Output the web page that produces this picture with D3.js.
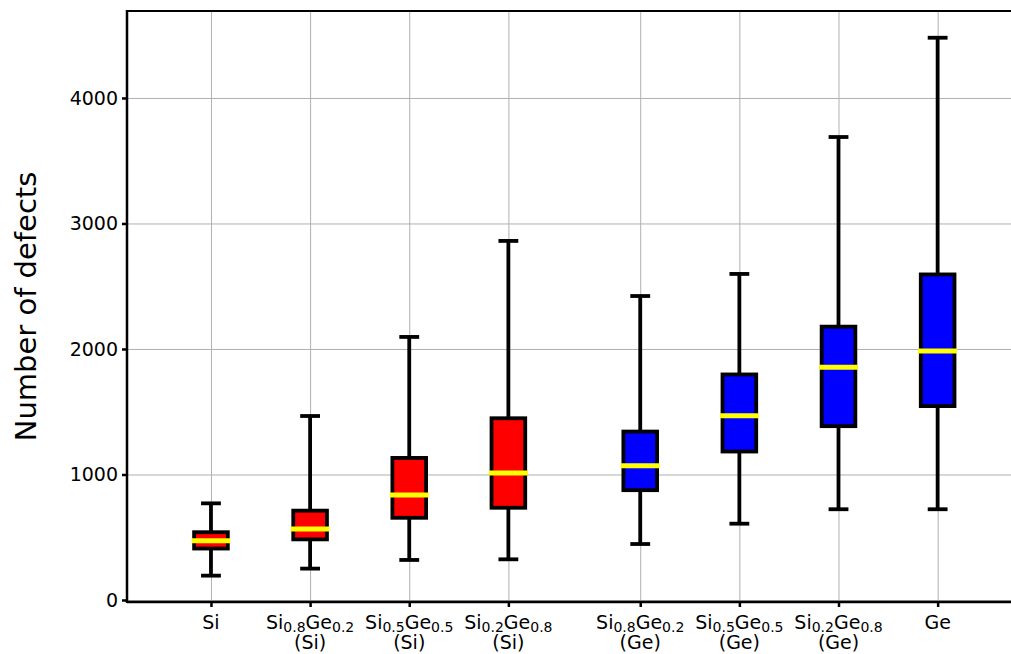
<!DOCTYPE html>
<html>
<head>
<meta charset="utf-8">
<script src="https://cdn.jsdelivr.net/npm/d3@7"></script>
<style>
  html, body { margin: 0; padding: 0; background: #ffffff; }
  svg { display: block; font-family: "DejaVu Sans", sans-serif; }
</style>
</head>
<body>
<svg id="chart" width="1011" height="654"></svg>
<script>
// ---- data ----
const positions = [1, 2, 3, 4, 5.33, 6.33, 7.33, 8.33];
// first label line: segments alternate normal / subscript
const labelLine1 = [
  ["Si"],
  ["Si", "0.8", "Ge", "0.2"],
  ["Si", "0.5", "Ge", "0.5"],
  ["Si", "0.2", "Ge", "0.8"],
  ["Si", "0.8", "Ge", "0.2"],
  ["Si", "0.5", "Ge", "0.5"],
  ["Si", "0.2", "Ge", "0.8"],
  ["Ge"]
];
const labelLine2 = ["", "(Si)", "(Si)", "(Si)", "(Ge)", "(Ge)", "(Ge)", ""];
const whiskerLow  = [194, 250, 319, 324, 446, 608, 723, 723];
const q1          = [410, 483, 655, 735, 875, 1183, 1385, 1545];
const medians     = [473, 566, 837, 1012, 1070, 1469, 1854, 1984];
const q3          = [540, 712, 1132, 1448, 1342, 1797, 2178, 2594];
const whiskerHigh = [770, 1466, 2096, 2861, 2422, 2598, 3689, 4480];
const boxColors   = ["#ff0000", "#ff0000", "#ff0000", "#ff0000", "#0000ff", "#0000ff", "#0000ff", "#0000ff"];
const yTicks = [0, 1000, 2000, 3000, 4000];
const yLabel = "Number of defects";

// ---- layout ----
const plotLeft = 127, plotRight = 1011, plotTop = 11, plotBottom = 602;
const boxWidth = 0.34, capWidth = 0.2;
const lw = 3.8;

const svg = d3.select("#chart");
const x = d3.scaleLinear().domain([0.153, 9.07]).range([plotLeft, plotRight]);
const y = d3.scaleLinear().domain([-16, 4693]).range([plotBottom, plotTop]);

// grid
const gridY = svg.append("g").attr("transform", `translate(${plotLeft},0)`)
  .call(d3.axisLeft(y).tickValues(yTicks).tickSize(-(plotRight - plotLeft)).tickFormat(""));
gridY.select(".domain").remove();
gridY.selectAll("line").attr("stroke", "#b0b0b0").attr("stroke-width", 1);

const gridX = svg.append("g").attr("transform", `translate(0,${plotBottom})`)
  .call(d3.axisBottom(x).tickValues(positions).tickSize(-(plotBottom - plotTop)).tickFormat(""));
gridX.select(".domain").remove();
gridX.selectAll("line").attr("stroke", "#b0b0b0").attr("stroke-width", 1);

// boxes
const data = positions.map((p, i) => ({
  p, lo: whiskerLow[i], q1: q1[i], med: medians[i], q3: q3[i], hi: whiskerHigh[i], color: boxColors[i]
}));
const g = svg.append("g");
const bx = g.selectAll("g.box").data(data).enter().append("g").attr("class", "box");

// whiskers
bx.append("line")
  .attr("x1", d => x(d.p)).attr("x2", d => x(d.p))
  .attr("y1", d => y(d.q3)).attr("y2", d => y(d.hi))
  .attr("stroke", "#000").attr("stroke-width", lw);
bx.append("line")
  .attr("x1", d => x(d.p)).attr("x2", d => x(d.p))
  .attr("y1", d => y(d.q1)).attr("y2", d => y(d.lo))
  .attr("stroke", "#000").attr("stroke-width", lw);
// caps
bx.append("line")
  .attr("x1", d => x(d.p - capWidth / 2)).attr("x2", d => x(d.p + capWidth / 2))
  .attr("y1", d => y(d.hi)).attr("y2", d => y(d.hi))
  .attr("stroke", "#000").attr("stroke-width", lw);
bx.append("line")
  .attr("x1", d => x(d.p - capWidth / 2)).attr("x2", d => x(d.p + capWidth / 2))
  .attr("y1", d => y(d.lo)).attr("y2", d => y(d.lo))
  .attr("stroke", "#000").attr("stroke-width", lw);
// box
bx.append("rect")
  .attr("x", d => x(d.p - boxWidth / 2))
  .attr("width", d => x(d.p + boxWidth / 2) - x(d.p - boxWidth / 2))
  .attr("y", d => y(d.q3))
  .attr("height", d => y(d.q1) - y(d.q3))
  .attr("fill", d => d.color)
  .attr("stroke", "#000").attr("stroke-width", lw);
// median
bx.append("line")
  .attr("x1", d => x(d.p - boxWidth / 2)).attr("x2", d => x(d.p + boxWidth / 2))
  .attr("y1", d => y(d.med)).attr("y2", d => y(d.med))
  .attr("stroke", "#ffff00").attr("stroke-width", 5).attr("stroke-linecap", "square");

// y axis
const yAxis = svg.append("g").attr("transform", `translate(${plotLeft},0)`)
  .call(d3.axisLeft(y).tickValues(yTicks).tickSize(5).tickPadding(4).tickFormat(d3.format("d")));
yAxis.select(".domain").remove();
yAxis.selectAll(".tick line").attr("stroke", "#000").attr("stroke-width", 2.5);
yAxis.selectAll(".tick text").attr("font-size", 19).attr("fill", "#000")
  .attr("font-family", "DejaVu Sans");

// x axis
const xAxis = svg.append("g").attr("transform", `translate(0,${plotBottom})`)
  .call(d3.axisBottom(x).tickValues(positions).tickSize(5).tickFormat(""));
xAxis.select(".domain").remove();
xAxis.selectAll(".tick line").attr("stroke", "#000").attr("stroke-width", 2.5);
xAxis.selectAll(".tick text").remove();

const labels = svg.append("g").attr("font-family", "DejaVu Sans").attr("font-size", 19).attr("fill", "#000");
positions.forEach((p, i) => {
  const t = labels.append("text").attr("text-anchor", "middle");
  const l1 = t.append("tspan").attr("x", x(p)).attr("y", 629);
  labelLine1[i].forEach((seg, k) => {
    const isSub = k % 2 === 1;
    const ts = l1.append("tspan").text(seg);
    if (isSub) ts.attr("font-size", 14).attr("dy", 3);
    else if (k > 0) ts.attr("dy", -3);
  });
  if (labelLine2[i]) {
    t.append("tspan").attr("x", x(p)).attr("y", 649).text(labelLine2[i]);
  }
});

// spines
svg.append("line").attr("x1", plotLeft).attr("x2", plotRight).attr("y1", plotTop).attr("y2", plotTop)
  .attr("stroke", "#000").attr("stroke-width", 2.2);
svg.append("line").attr("x1", plotLeft).attr("x2", plotRight).attr("y1", plotBottom).attr("y2", plotBottom)
  .attr("stroke", "#000").attr("stroke-width", 2.5);
svg.append("line").attr("x1", plotLeft).attr("x2", plotLeft).attr("y1", plotTop - 1).attr("y2", plotBottom + 1)
  .attr("stroke", "#000").attr("stroke-width", 2.5);

// y label
svg.append("text")
  .attr("transform", `translate(36,${(plotTop + plotBottom) / 2}) rotate(-90)`)
  .attr("text-anchor", "middle")
  .attr("font-family", "DejaVu Sans").attr("font-size", 29).attr("fill", "#000")
  .text(yLabel);
</script>
</body>
</html>
